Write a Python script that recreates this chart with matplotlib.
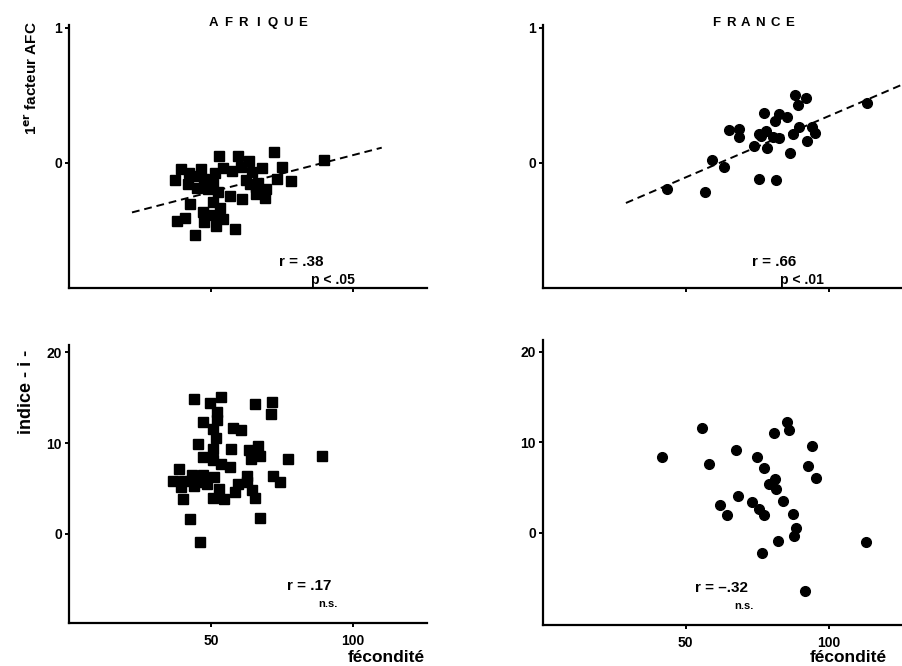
import matplotlib

matplotlib.use("Agg")
import matplotlib.pyplot as plt
import numpy as np

plt.rcParams["font.family"] = ["Liberation Sans", "DejaVu Sans"]
plt.rcParams["font.weight"] = "bold"

# --- AFRIQUE: fecondite vs 1er facteur AFC ---
af_x = [39.4, 37.4, 42.4, 46.5, 41.8, 45.1, 47.5, 52.7, 59.4, 72.1, 89.9, 63.3,
        54.1, 51.5, 57.6, 60.6, 64.4, 68.0, 75.0, 73.2, 78.2, 66.7, 63.8, 69.4,
        65.8, 69.1, 60.9, 56.8, 50.9, 48.5, 52.4, 50.6, 42.7, 47.1, 53.2, 50.6,
        40.9, 37.9, 47.6, 54.3, 51.8, 58.6, 44.5, 44.0, 49.0, 66.0, 62.5]
af_afc = [-0.05, -0.13, -0.08, -0.05, -0.16, -0.19, -0.12, 0.05, 0.05, 0.08, 0.02, 0.01,
          -0.04, -0.08, -0.06, -0.03, -0.07, -0.04, -0.03, -0.12, -0.14, -0.15, -0.16, -0.20,
          -0.23, -0.26, -0.27, -0.25, -0.16, -0.14, -0.22, -0.29, -0.31, -0.37, -0.34, -0.39,
          -0.41, -0.43, -0.44, -0.42, -0.47, -0.49, -0.54, -0.10, -0.20, -0.18, -0.13]
af_fit_x = [22.2, 110.2]
af_fit_y = [-0.37, 0.11]

# --- FRANCE: fecondite vs 1er facteur AFC ---
fr_x = [43.3, 56.8, 59.3, 63.4, 65.0, 68.8, 68.7, 73.9, 75.7, 77.5, 78.2, 76.3,
        78.4, 80.5, 81.3, 82.8, 85.4, 82.5, 86.6, 88.3, 92.1, 89.3, 89.5, 87.7,
        94.2, 95.3, 92.6, 75.8, 81.5, 113.4]
fr_afc = [-0.20, -0.22, 0.02, -0.03, 0.24, 0.25, 0.19, 0.12, 0.21, 0.37, 0.23, 0.20,
          0.11, 0.19, 0.31, 0.18, 0.34, 0.36, 0.07, 0.50, 0.48, 0.43, 0.26, 0.21,
          0.26, 0.22, 0.16, -0.12, -0.13, 0.44]
fr_fit_x = [29.1, 126.0]
fr_fit_y = [-0.30, 0.58]

# --- AFRIQUE: fecondite vs indice -i- ---
ai_x = [44.0, 53.5, 49.8, 65.5, 71.5, 71.3, 52.0, 52.3, 47.1, 50.9, 51.7, 57.8,
        60.5, 45.6, 50.9, 57.0, 63.4, 66.6, 67.2, 64.3, 47.1, 77.1, 89.2, 50.9,
        53.5, 56.6, 38.6, 43.3, 47.1, 51.2, 36.6, 40.7, 45.9, 48.8, 44.2, 39.3,
        62.6, 59.7, 62.8, 71.9, 74.4, 58.5, 52.7, 64.5, 40.1, 50.9, 54.7, 65.5,
        42.7, 67.4, 46.2]
ai_ind = [14.8, 15.1, 14.4, 14.3, 14.5, 13.2, 13.4, 12.5, 12.3, 11.5, 10.6, 11.7,
          11.4, 9.9, 9.4, 9.3, 9.2, 9.7, 8.6, 8.3, 8.5, 8.3, 8.6, 8.1,
          7.7, 7.4, 7.2, 6.5, 6.5, 6.3, 5.8, 5.8, 5.7, 5.5, 5.3, 5.2,
          6.4, 5.5, 5.7, 6.4, 5.7, 4.6, 4.9, 4.8, 3.9, 4.0, 3.8, 4.0,
          1.7, 1.8, -0.9]

# --- FRANCE: fecondite vs indice -i- ---
fi_x = [41.7, 55.7, 58.1, 62.0, 64.4, 67.6, 68.2, 73.3, 75.1, 75.7, 77.4, 77.4,
        76.6, 79.3, 81.2, 81.5, 81.0, 85.6, 86.0, 84.2, 87.5, 88.6, 87.8, 82.2,
        94.1, 92.9, 95.5, 91.9, 113.1]
fi_ind = [8.4, 11.6, 7.6, 3.1, 1.9, 9.1, 4.0, 3.4, 8.4, 2.6, 7.2, 1.9,
          -2.3, 5.4, 5.9, 4.8, 11.0, 12.2, 11.3, 3.5, 2.1, 0.5, -0.4, -0.9,
          9.6, 7.4, 6.0, -6.5, -1.0]

fig = plt.figure(figsize=(9.03, 6.66), dpi=100)
ax_tl = fig.add_axes([0.0764, 0.5676, 0.396, 0.395])
ax_tr = fig.add_axes([0.601, 0.5676, 0.399, 0.395])
ax_bl = fig.add_axes([0.0764, 0.0646, 0.396, 0.4174])
ax_br = fig.add_axes([0.601, 0.0616, 0.399, 0.428])

for ax in (ax_tl, ax_tr, ax_bl, ax_br):
    for s in ("top", "right"):
        ax.spines[s].set_visible(False)
    for s in ("left", "bottom"):
        ax.spines[s].set_linewidth(1.6)
    ax.set_xlim(0, 126)
    ax.set_xticks([50, 100])
    ax.tick_params(length=3, width=1.4, labelsize=10, pad=2)

for ax in (ax_tl, ax_tr):
    ax.set_ylim(-0.93, 1.02)
    ax.set_yticks([0, 1])
    ax.set_yticklabels(["0", "1"], fontweight="bold")
    ax.set_xticklabels([])

ax_bl.set_ylim(-9.8, 20.8)
ax_br.set_ylim(-10.2, 21.3)
for ax in (ax_bl, ax_br):
    ax.set_yticks([0, 10, 20])
    ax.set_yticklabels(["0", "10", "20"], fontweight="bold")
    ax.set_xticklabels(["50", "100"], fontweight="bold")
    ax.tick_params(axis="x", pad=5)

sq = dict(marker="s", ms=6.5, color="black", linestyle="none")
ci = dict(marker="o", ms=7, color="black", linestyle="none")
dash = dict(color="black", linestyle=(0, (4, 2.5)), linewidth=1.4)

ax_tl.plot(af_fit_x, af_fit_y, **dash)
ax_tl.plot(af_x, af_afc, **sq)
ax_tr.plot(fr_fit_x, fr_fit_y, clip_on=False, **dash)
ax_tr.plot(fr_x, fr_afc, **ci)
ax_bl.plot(ai_x, ai_ind, **sq)
ax_br.plot(fi_x, fi_ind, **ci)

# stats annotations
ax_tl.text(73.9, -0.74, "r = .38", fontsize=11, va="center")
ax_tl.text(85.2, -0.87, "p < .05", fontsize=10, va="center")
ax_tr.text(73.1, -0.74, "r = .66", fontsize=11, va="center")
ax_tr.text(82.9, -0.87, "p < .01", fontsize=10, va="center")
ax_bl.text(76.7, -5.76, "r = .17", fontsize=11, va="center")
ax_bl.text(87.8, -7.76, "n.s.", fontsize=8, va="center")
ax_br.text(53.1, -6.1, "r = \u2013.32", fontsize=11, va="center")
ax_br.text(67.0, -8.1, "n.s.", fontsize=8, va="center")

# spaced-out panel titles
for i, ch in enumerate("AFRIQUE"):
    fig.text((213 + 15 * i) / 903, 1 - 23 / 666, ch, ha="center", va="center",
             fontsize=9.5, fontweight="bold")
for i, ch in enumerate("FRANCE"):
    fig.text((716 + 14.8 * i) / 903, 1 - 23 / 666, ch, ha="center", va="center",
             fontsize=9.5, fontweight="bold")

fig.text(31 / 903, 1 - 78 / 666, "1$^{\\mathbf{er}}$ facteur AFC", rotation=90,
         ha="center", va="center", fontsize=11, fontweight="bold")
fig.text(27 / 903, 1 - 392 / 666, "indice - i -", rotation=90,
         ha="center", va="center", fontsize=13, fontweight="bold")
fig.text(348 / 903, 1 - 657 / 666, "fécondité", ha="left", va="center",
         fontsize=12.5, fontweight="bold")
fig.text(810 / 903, 1 - 657 / 666, "fécondité", ha="left", va="center",
         fontsize=12.5, fontweight="bold")

plt.savefig("out.png", dpi=100)
plt.close()
